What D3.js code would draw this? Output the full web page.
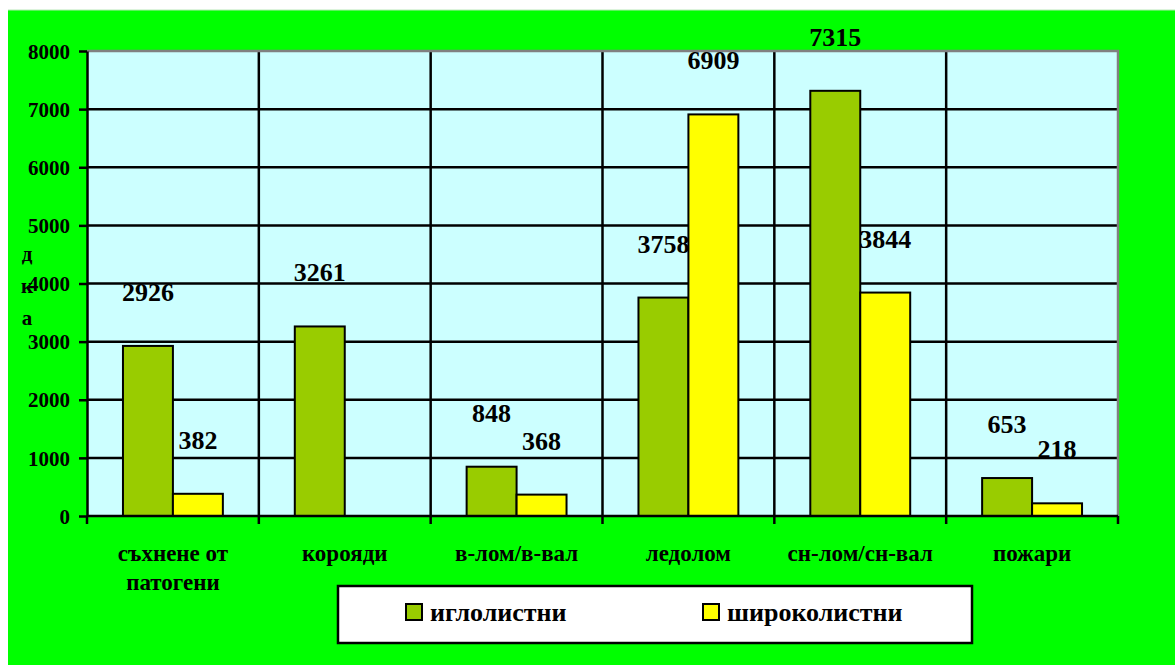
<!DOCTYPE html>
<html>
<head>
<meta charset="utf-8">
<script src="https://cdn.jsdelivr.net/npm/d3@7"></script>
<style>
  body { margin: 0; background: #fff; }
  text { font-family: "Liberation Serif", "Times New Roman", serif; font-weight: bold; fill: #000; }
</style>
</head>
<body>
<svg id="chart" width="1175" height="665"></svg>
<script>
// categories / series
var categories = ["съхнене от\nпатогени", "корояди", "в-лом/в-вал", "ледолом", "сн-лом/сн-вал", "пожари"];
var seriesNames = ["иглолистни", "широколистни"];
var conifer = [2926, 3261, 848, 3758, 7315, 653];
var broadleaf = [382, null, 368, 6909, 3844, 218];
var yTicks = [0, 1000, 2000, 3000, 4000, 5000, 6000, 7000, 8000];
var yTitle = ["д", "к", "а"];

var colors = { "иглолистни": "#99cc00", "широколистни": "#ffff00" };

var svg = d3.select("#chart");

// green chart area
svg.append("rect")
    .attr("x", 8).attr("y", 10)
    .attr("width", 1175 - 8).attr("height", 665 - 10)
    .attr("fill", "#00ff00");
svg.append("line")
    .attr("x1", 8).attr("x2", 1175).attr("y1", 10).attr("y2", 10)
    .attr("stroke", "#b8e6b8").attr("stroke-width", 1);

var pLeft = 87, pRight = 1118, pTop = 51, pBottom = 516;

var x = d3.scaleBand().domain(categories).range([pLeft, pRight]).padding(0);
var xs = d3.scaleBand().domain(seriesNames).range([0, x.bandwidth()])
    .paddingInner(0).paddingOuter(0.72);
var y = d3.scaleLinear().domain([0, 8000]).range([pBottom, pTop]);

// plot background
svg.append("rect")
    .attr("x", pLeft).attr("y", pTop)
    .attr("width", pRight - pLeft).attr("height", pBottom - pTop)
    .attr("fill", "#ccffff");

// horizontal grid
svg.append("g")
    .selectAll("line")
    .data(yTicks.filter(function(d) { return d > 0 && d < 8000; }))
    .enter().append("line")
    .attr("x1", pLeft).attr("x2", pRight)
    .attr("y1", function(d) { return y(d); })
    .attr("y2", function(d) { return y(d); })
    .attr("stroke", "#000").attr("stroke-width", 2.5);

// vertical grid at category boundaries
svg.append("g")
    .selectAll("line")
    .data(categories.slice(1))
    .enter().append("line")
    .attr("x1", function(d) { return x(d); })
    .attr("x2", function(d) { return x(d); })
    .attr("y1", pTop).attr("y2", pBottom)
    .attr("stroke", "#000").attr("stroke-width", 2.5);

// top and right border (grey)
svg.append("path")
    .attr("d", "M" + pLeft + "," + pTop + "H" + pRight + "V" + pBottom)
    .attr("fill", "none").attr("stroke", "#808080").attr("stroke-width", 2.5);

// bars
var rows = categories.map(function(c, i) {
    return { cat: c, vals: [{ s: seriesNames[0], v: conifer[i] }, { s: seriesNames[1], v: broadleaf[i] }] };
});

var group = svg.append("g")
    .selectAll("g")
    .data(rows)
    .enter().append("g")
    .attr("transform", function(d) { return "translate(" + x(d.cat) + ",0)"; });

group.selectAll("rect")
    .data(function(d) { return d.vals.filter(function(e) { return e.v != null; }); })
    .enter().append("rect")
    .attr("x", function(d) { return xs(d.s); })
    .attr("width", xs.bandwidth())
    .attr("y", function(d) { return y(d.v); })
    .attr("height", function(d) { return y(0) - y(d.v); })
    .attr("fill", function(d) { return colors[d.s]; })
    .attr("stroke", "#000").attr("stroke-width", 2);

// value labels
group.selectAll("text")
    .data(function(d) { return d.vals.filter(function(e) { return e.v != null; }); })
    .enter().append("text")
    .attr("x", function(d) { return xs(d.s) + xs.bandwidth() / 2; })
    .attr("y", function(d) { return y(d.v) - 45; })
    .attr("text-anchor", "middle")
    .style("font-size", "26px")
    .text(function(d) { return d.v; });

// y axis
var yAxis = svg.append("g")
    .attr("transform", "translate(" + pLeft + ",0)")
    .call(d3.axisLeft(y).tickValues(yTicks).tickFormat(d3.format("d"))
        .tickSize(8).tickPadding(9).tickSizeOuter(0));
yAxis.select(".domain").attr("stroke", "#000").attr("stroke-width", 2.5);
yAxis.selectAll(".tick line").attr("stroke", "#000").attr("stroke-width", 2.5);
yAxis.selectAll(".tick text")
    .style("font-size", "21px")
    .style("font-family", "Liberation Serif, serif")
    .style("font-weight", "bold")
    .attr("dy", "0.34em");

// x axis
var xAxis = svg.append("g")
    .attr("transform", "translate(0," + pBottom + ")");
xAxis.append("line")
    .attr("x1", pLeft).attr("x2", pRight)
    .attr("stroke", "#000").attr("stroke-width", 2.5);
xAxis.selectAll("line.tk")
    .data(categories.map(function(c) { return x(c); }).concat([pRight]))
    .enter().append("line")
    .attr("class", "tk")
    .attr("x1", function(d) { return d; })
    .attr("x2", function(d) { return d; })
    .attr("y1", 0).attr("y2", 8)
    .attr("stroke", "#000").attr("stroke-width", 2.5);

var catLabels = xAxis.selectAll("text.cat")
    .data(categories)
    .enter().append("text")
    .attr("class", "cat")
    .attr("text-anchor", "middle")
    .attr("x", function(d) { return x(d) + x.bandwidth() / 2; })
    .attr("y", 45)
    .style("font-size", "23px");
catLabels.selectAll("tspan")
    .data(function(d) { return d.split("\n"); })
    .enter().append("tspan")
    .attr("x", function() { return d3.select(this.parentNode).attr("x"); })
    .attr("dy", function(d, i) { return i ? 29 : 0; })
    .text(function(d) { return d; });

// y title, stacked letters
svg.append("g")
    .selectAll("text")
    .data(yTitle)
    .enter().append("text")
    .attr("x", 27)
    .attr("y", function(d, i) { return 261 + i * 32; })
    .attr("text-anchor", "middle")
    .style("font-size", "21px")
    .text(function(d) { return d; });

// legend
var legend = svg.append("g").attr("transform", "translate(338,586)");
legend.append("rect")
    .attr("width", 634).attr("height", 57)
    .attr("fill", "#fff").attr("stroke", "#000").attr("stroke-width", 2.5);
var item = legend.selectAll("g.item")
    .data(seriesNames)
    .enter().append("g")
    .attr("class", "item")
    .attr("transform", function(d, i) { return "translate(" + (68 + i * 297) + ",18)"; });
item.append("rect")
    .attr("width", 16).attr("height", 16)
    .attr("fill", function(d) { return colors[d]; })
    .attr("stroke", "#000").attr("stroke-width", 2);
item.append("text")
    .attr("x", 24).attr("y", 17)
    .style("font-size", "26px")
    .text(function(d) { return d; });
</script>
</body>
</html>
